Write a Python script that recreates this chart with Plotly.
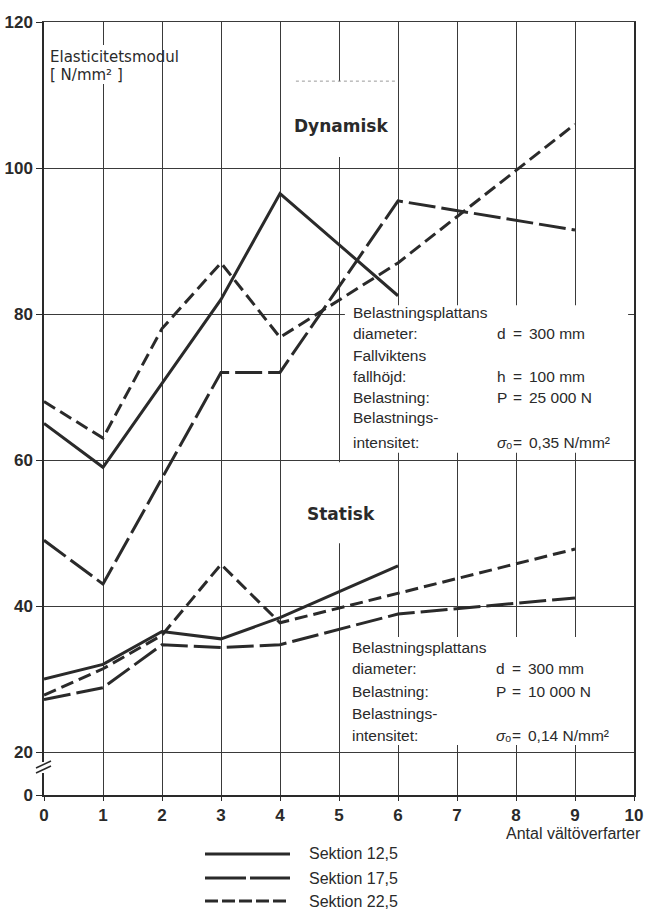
import plotly.graph_objects as go

# --- data: elasticity modulus vs. number of roller passes -------------------
x_dyn_125 = [0, 1, 2, 3, 4, 6]
dyn_125 = [65, 59, 70.5, 82, 96.5, 82.5]
x_dyn_175 = [0, 1, 3, 4, 6, 9]
dyn_175 = [49, 43, 72, 72, 95.5, 91.5]
x_dyn_225 = [0, 1, 2, 3, 4, 6, 9]
dyn_225 = [68, 63, 78, 87, 76.8, 87, 106]

x_st_125 = [0, 1, 2, 3, 4, 6]
st_125 = [30, 32, 36.5, 35.5, 38.4, 45.5]
x_st_175 = [0, 1, 2, 3, 4, 6, 9]
st_175 = [27.2, 28.8, 34.7, 34.3, 34.7, 38.9, 41.1]
x_st_225 = [0, 1, 2, 3, 4, 9]
st_225 = [27.8, 31.4, 36, 45.7, 37.7, 47.8]

x_ticks = list(range(0, 11))
y_ticks = [20, 40, 60, 80, 100, 120]
series_names = ["Sektion 12,5", "Sektion 17,5", "Sektion 22,5"]

# --- styling -----------------------------------------------------------------
INK = "#2a2a2a"
GRID = "#3a3a3a"
DASHES = ["solid", "27px,6px", "13px,6px"]
LEGEND_DASHES = ["solid", "41px,4px", "13px,4px"]
SANS = "Liberation Sans"
WIDE = "DejaVu Sans"

W, H = 646, 909
L, R, T, B = 44, 634, 22, 795       # plot area in pixels
Y20 = 752                            # pixel row of the 20-line (axis break)


def px_x(px):
    return (px - L) / (R - L)


def px_y(py):
    return (B - py) / (B - T)


split = px_y(Y20)

fig = go.Figure()

groups = [
    (x_dyn_125, dyn_125, 0), (x_dyn_175, dyn_175, 1), (x_dyn_225, dyn_225, 2),
    (x_st_125, st_125, 0), (x_st_175, st_175, 1), (x_st_225, st_225, 2),
]
for xs, ys, k in groups:
    fig.add_trace(go.Scatter(
        x=xs, y=ys, mode="lines", name=series_names[k], showlegend=False,
        line=dict(color=INK, width=3, dash=DASHES[k]),
        xaxis="x", yaxis="y",
    ))

# invisible trace so the lower (0..20) strip exists
fig.add_trace(go.Scatter(x=[0], y=[0], mode="markers", marker=dict(opacity=0),
                         showlegend=False, hoverinfo="skip", xaxis="x2", yaxis="y2"))

tick_font = dict(family=SANS, size=17, color=INK, weight="bold")

fig.update_layout(
    width=W, height=H,
    margin=dict(l=L, r=W - R, t=T, b=H - B, autoexpand=False),
    paper_bgcolor="white", plot_bgcolor="white",
    showlegend=False,
    xaxis=dict(range=[0, 10], domain=[0, 1], anchor="y", tickvals=x_ticks,
               showticklabels=False, showgrid=True, gridcolor=GRID, gridwidth=1,
               showline=True, mirror=True, linecolor=GRID, linewidth=1,
               zeroline=False, ticks="", automargin=False),
    yaxis=dict(range=[20, 120], domain=[split, 1], anchor="x", tickvals=y_ticks,
               ticktext=[str(v) for v in y_ticks], tickfont=tick_font,
               showgrid=True, gridcolor=GRID, gridwidth=1,
               showline=True, mirror=True, linecolor=INK, linewidth=1.5,
               ticks="outside", ticklen=6, tickcolor=INK, tickwidth=1,
               zeroline=False, automargin=False),
    xaxis2=dict(range=[0, 10], domain=[0, 1], anchor="y2", matches="x",
                tickvals=x_ticks, ticktext=[str(v) for v in x_ticks],
                tickfont=tick_font, showgrid=True, gridcolor=GRID, gridwidth=1,
                showline=True, linecolor=INK, linewidth=2,
                ticks="outside", ticklen=4, tickcolor=INK, tickwidth=1,
                zeroline=False, automargin=False),
    yaxis2=dict(range=[0, 20], domain=[0, split], anchor="x2", tickvals=[0],
                ticktext=["0"], tickfont=tick_font, showgrid=False,
                showline=True, mirror=True, linecolor=INK, linewidth=1.5,
                ticks="outside", ticklen=6, tickcolor=INK, tickwidth=1,
                zeroline=False, automargin=False),
)

shapes = []


def mask(x0, x1, y0, y1):
    # white panel that hides the grid behind a text block but not the curves
    shapes.append(dict(type="rect", xref="x", yref="y", x0=x0, x1=x1, y0=y0, y1=y1,
                       fillcolor="white", line=dict(width=0), layer="between"))


mask(0.85, 1.3, 111.5, 116.85)     # axis title
mask(4.2, 5.85, 101.5, 111.9)      # "Dynamisk"
mask(5.1, 9.9, 61.0, 81.2)         # dynamic test conditions
mask(4.3, 5.85, 48.6, 59.7)        # "Statisk"
mask(5.1, 9.9, 20.96, 35.75)       # static test conditions

# faint paste-up edge above the "Dynamisk" panel
shapes.append(dict(type="line", xref="x", yref="y", x0=4.27, x1=5.95, y0=111.9, y1=111.9,
                   line=dict(color="#9a9a9a", width=1, dash="3px,3px"), layer="above"))

# axis break on the y axis
shapes.append(dict(type="rect", xref="paper", yref="paper",
                   x0=px_x(41), x1=px_x(47), y0=px_y(773), y1=px_y(762),
                   fillcolor="white", line=dict(width=0), layer="above"))
for dy in (0, -5):
    shapes.append(dict(type="line", xref="paper", yref="paper",
                       x0=px_x(36), x1=px_x(51), y0=px_y(773 + dy), y1=px_y(766 + dy),
                       line=dict(color=INK, width=1.5), layer="above"))

# legend keys
legend_rows = [854, 878, 901]
for k, row in enumerate(legend_rows):
    shapes.append(dict(type="line", xref="paper", yref="paper",
                       x0=px_x(205), x1=px_x(290), y0=px_y(row), y1=px_y(row),
                       line=dict(color=INK, width=3, dash=LEGEND_DASHES[k]),
                       layer="above"))

fig.update_layout(shapes=shapes)

ann = []


def text(px, py, s, size=15.5, family=SANS, anchor="left", bold=False):
    ann.append(dict(xref="paper", yref="paper", x=px_x(px), y=px_y(py), text=s,
                    showarrow=False, xanchor=anchor, yanchor="middle",
                    font=dict(family=family, size=size, color=INK,
                              weight="bold" if bold else "normal")))


# y axis title
text(48, 57, "Elasticitetsmodul", size=15, family=WIDE)
text(48, 75, "[ N/mm² ]", size=15, family=WIDE)

# regime labels
text(341, 126, "Dynamisk", size=17, family=WIDE, anchor="center", bold=True)
text(341, 514, "Statisk", size=17, family=WIDE, anchor="center", bold=True)

# x axis title
text(643, 833, "Antal vältöverfarter", size=16, anchor="right")

SIGMA = "<i>σ</i>ₒ"

# dynamic test conditions
text(351, 312, "Belastningsplattans")
text(351, 333, "diameter:")
text(351, 355, "Fallviktens")
text(351, 376, "fallhöjd:")
text(351, 397, "Belastning:")
text(351, 418, "Belastnings-")
text(351, 442, "intensitet:")
for py, sym, val in [(333, "d", "300 mm"), (376, "h", "100 mm"),
                     (397, "P", "25 000 N"), (442, SIGMA, "0,35 N/mm²")]:
    text(495, py, sym)
    text(511, py, "=")
    text(527, py, val)

# static test conditions
text(350, 647, "Belastningsplattans")
text(350, 668, "diameter:")
text(350, 691, "Belastning:")
text(350, 713, "Belastnings-")
text(350, 735, "intensitet:")
for py, sym, val in [(668, "d", "300 mm"), (691, "P", "10 000 N"),
                     (735, SIGMA, "0,14 N/mm²")]:
    text(494, py, sym)
    text(510, py, "=")
    text(526, py, val)

# legend labels
for name, row in zip(series_names, legend_rows):
    text(307, row, name, size=16)

fig.update_layout(annotations=ann)

fig.write_html("out.html")
